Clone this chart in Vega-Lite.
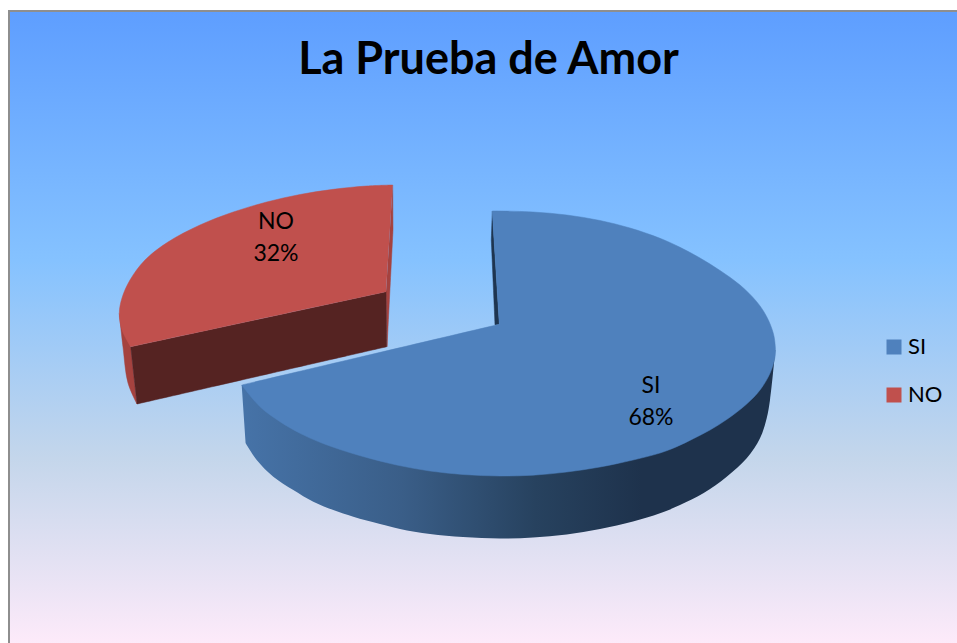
{
"$schema":"https://vega.github.io/schema/vega-lite/v6.json",
"width":957,"height":643,"padding":0,"autosize":{"type":"none"},
"background":"white",
"view":{"stroke":null},
"title":{"text":"La Prueba de Amor","font":"Lato","fontWeight":"bold","fontSize":45,"color":"#000000","anchor":"middle","dx":10,"dy":119,"baseline":"alphabetic","offset":0},
"datasets":{
"frame":[{"x0":9,"x1":960,"y0":11,"y1":650}],
"shares":[{"name":"SI","value":68,"label":"SI\n68%","lx":651,"ly":386},{"name":"NO","value":32,"label":"NO\n32%","lx":276,"ly":222}],
"blueWall":[{"i":0,"x":775.3,"y":350},{"i":1,"x":775.3,"y":350},{"i":2,"x":770,"y":400},{"i":3,"x":766.7,"y":418.3},{"i":4,"x":760,"y":438.3},{"i":5,"x":746.7,"y":458.3},{"i":6,"x":726.7,"y":476.7},{"i":7,"x":703.3,"y":493.3},{"i":8,"x":680,"y":505},{"i":9,"x":660,"y":513.3},{"i":10,"x":633,"y":521.5},{"i":11,"x":600,"y":529},{"i":12,"x":566.7,"y":534.5},{"i":13,"x":533,"y":537.5},{"i":14,"x":500,"y":538.5},{"i":15,"x":463,"y":537},{"i":16,"x":430,"y":534},{"i":17,"x":400,"y":529},{"i":18,"x":380,"y":524},{"i":19,"x":353.3,"y":516.7},{"i":20,"x":333.3,"y":510},{"i":21,"x":313.3,"y":501.7},{"i":22,"x":293.3,"y":490},{"i":23,"x":273.3,"y":476.7},{"i":24,"x":256.7,"y":460},{"i":25,"x":245.7,"y":443.3},{"i":26,"x":245.7,"y":443.3},{"i":27,"x":241.7,"y":385},{"i":28,"x":241.7,"y":385},{"i":29,"x":500,"y":400},{"i":30,"x":500,"y":400},{"i":31,"x":775.3,"y":350}],
"blueSliver":[{"i":0,"x":492.3,"y":211},{"i":1,"x":492.3,"y":211},{"i":2,"x":491.3,"y":240},{"i":3,"x":491.3,"y":240},{"i":4,"x":495,"y":325},{"i":5,"x":495,"y":325},{"i":6,"x":499.3,"y":324.3},{"i":7,"x":499.3,"y":324.3}],
"blueTop":[{"i":0,"x":492.3,"y":211},{"i":1,"x":492.3,"y":211},{"i":2,"x":499.3,"y":324.3},{"i":3,"x":499.3,"y":324.3},{"i":4,"x":241.7,"y":385},{"i":5,"x":241.7,"y":385},{"i":6,"x":260,"y":406.7},{"i":7,"x":280,"y":421.7},{"i":8,"x":300,"y":433.3},{"i":9,"x":320,"y":442.3},{"i":10,"x":340,"y":449.5},{"i":11,"x":363,"y":456.5},{"i":12,"x":396.7,"y":465},{"i":13,"x":430,"y":471},{"i":14,"x":463,"y":474.5},{"i":15,"x":500,"y":476},{"i":16,"x":533,"y":475.2},{"i":17,"x":566.7,"y":472},{"i":18,"x":600,"y":467},{"i":19,"x":633,"y":460},{"i":20,"x":660,"y":453},{"i":21,"x":676.7,"y":446.7},{"i":22,"x":693.3,"y":438.7},{"i":23,"x":710,"y":430},{"i":24,"x":726.7,"y":419.5},{"i":25,"x":746.7,"y":404},{"i":26,"x":760,"y":390},{"i":27,"x":770,"y":373.3},{"i":28,"x":775,"y":357},{"i":29,"x":775.3,"y":347},{"i":30,"x":773.3,"y":333.3},{"i":31,"x":766.7,"y":316.7},{"i":32,"x":756.7,"y":301.7},{"i":33,"x":740,"y":285},{"i":34,"x":720,"y":270.5},{"i":35,"x":700,"y":258},{"i":36,"x":680,"y":247.3},{"i":37,"x":660,"y":238.3},{"i":38,"x":630,"y":228},{"i":39,"x":600,"y":220.5},{"i":40,"x":566.7,"y":215},{"i":41,"x":533,"y":212},{"i":42,"x":500,"y":211},{"i":43,"x":492.3,"y":211}],
"redLeft":[{"i":0,"x":119.3,"y":313.3},{"i":1,"x":119.3,"y":313.3},{"i":2,"x":123,"y":347},{"i":3,"x":128,"y":383},{"i":4,"x":137,"y":404},{"i":5,"x":137,"y":404},{"i":6,"x":130.7,"y":346.7},{"i":7,"x":130.7,"y":346.7}],
"redRight":[{"i":0,"x":392.7,"y":185},{"i":1,"x":392.7,"y":185},{"i":2,"x":393,"y":230},{"i":3,"x":393,"y":230},{"i":4,"x":387,"y":346.7},{"i":5,"x":387,"y":346.7},{"i":6,"x":386,"y":291.7},{"i":7,"x":386,"y":291.7}],
"redFace":[{"i":0,"x":386,"y":291.7},{"i":1,"x":386,"y":291.7},{"i":2,"x":386.7,"y":346.7},{"i":3,"x":386.7,"y":346.7},{"i":4,"x":137,"y":404},{"i":5,"x":137,"y":404},{"i":6,"x":130.7,"y":346.7},{"i":7,"x":130.7,"y":346.7}],
"redTop":[{"i":0,"x":392.7,"y":185},{"i":1,"x":392.7,"y":185},{"i":2,"x":366.7,"y":186},{"i":3,"x":333.3,"y":189.3},{"i":4,"x":300,"y":194.5},{"i":5,"x":266.7,"y":202},{"i":6,"x":233.3,"y":212},{"i":7,"x":200,"y":225},{"i":8,"x":168,"y":242},{"i":9,"x":145,"y":260},{"i":10,"x":130,"y":280},{"i":11,"x":122,"y":298},{"i":12,"x":119.3,"y":313.3},{"i":13,"x":122,"y":330},{"i":14,"x":130.7,"y":346.7},{"i":15,"x":130.7,"y":346.7},{"i":16,"x":386,"y":291.7},{"i":17,"x":386,"y":291.7}]
},
"encoding":{
"x":{"field":"x","type":"quantitative","axis":null,"scale":{"domain":[0,957],"nice":false,"zero":false}},
"y":{"field":"y","type":"quantitative","axis":null,"scale":{"domain":[643,0],"nice":false,"zero":false}},
"order":{"field":"i","type":"ordinal"}
},
"layer":[
{"data":{"name":"frame"},"mark":{"type":"rect","stroke":"#8E8E8E","strokeWidth":2,"fill":{"gradient":"linear","x1":0,"y1":0,"x2":0,"y2":1,"stops":[{"offset":0,"color":"#5E9EFF"},{"offset":0.39,"color":"#85C2FF"},{"offset":0.7,"color":"#C4D6EB"},{"offset":1,"color":"#FFEBFA"}]}},
"encoding":{"x":{"field":"x0","type":"quantitative"},"x2":{"field":"x1"},"y":{"field":"y0","type":"quantitative"},"y2":{"field":"y1"},"order":{"value":null}}},
{"data":{"name":"redLeft"},"mark":{"type":"line","interpolate":"catmull-rom","fill":"#A5423F","stroke":"#A5423F","strokeWidth":0.5}},
{"data":{"name":"redRight"},"mark":{"type":"line","interpolate":"catmull-rom","fill":"#A5423F","stroke":"#A5423F","strokeWidth":0.5}},
{"data":{"name":"redFace"},"mark":{"type":"line","interpolate":"catmull-rom","fill":"#552322","stroke":"#552322","strokeWidth":0.5}},
{"data":{"name":"redTop"},"mark":{"type":"line","interpolate":"catmull-rom","fill":"#C0504D","stroke":"#C0504D","strokeWidth":0.5}},
{"data":{"name":"blueSliver"},"mark":{"type":"line","interpolate":"catmull-rom","fill":"#1E3550","stroke":"#1E3550","strokeWidth":0.5}},
{"data":{"name":"blueWall"},"mark":{"type":"line","interpolate":"catmull-rom","strokeWidth":0,"fill":{"gradient":"linear","x1":0,"y1":0,"x2":1,"y2":0,"stops":[{"offset":0,"color":"#4673A8"},{"offset":0.3,"color":"#3A5E88"},{"offset":0.55,"color":"#27425F"},{"offset":0.75,"color":"#1E324C"},{"offset":1,"color":"#1E324C"}]}}},
{"data":{"name":"blueTop"},"mark":{"type":"line","interpolate":"catmull-rom","fill":"#4F81BD","stroke":"#4F81BD","strokeWidth":0.5}},
{"data":{"name":"shares"},"mark":{"type":"point","filled":true,"size":0,"shape":"square"},
"encoding":{"x":{"field":"lx","type":"quantitative"},"y":{"field":"ly","type":"quantitative"},"order":{"value":null},
"color":{"field":"name","type":"nominal","scale":{"domain":["SI","NO"],"range":["#4F81BD","#C0504D"]},
"legend":{"orient":"none","legendX":883,"legendY":336,"title":null,"symbolType":"square","symbolSize":225,"symbolStrokeWidth":0,"symbolOpacity":1,"labelFont":"Lato","labelFontSize":22,"labelColor":"#000000","labelOffset":3,"rowPadding":26,"padding":0}}}},
{"data":{"name":"shares"},"mark":{"type":"text","font":"Lato","fontSize":23,"color":"#000000","lineBreak":"\n","lineHeight":32,"align":"center","baseline":"middle"},
"encoding":{"x":{"field":"lx","type":"quantitative"},"y":{"field":"ly","type":"quantitative"},"text":{"field":"label"},"order":{"value":null}}}
]
}
